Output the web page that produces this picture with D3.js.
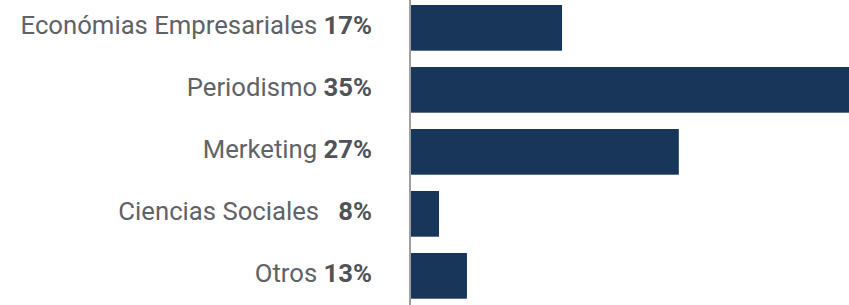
<!DOCTYPE html>
<html>
  <head>
    <meta charset="utf-8">
    <title>Bar chart</title>
    <script src="https://d3js.org/d3.v7.min.js"></script>
    <style>
      body { margin: 0; background: #fff; }
      text { font-family: Roboto, "Noto Sans", sans-serif; }
    </style>
  </head>
  <body>
    <div id="chart"></div>
    <script>
    // data
    var categories = ["Económias Empresariales", "Periodismo", "Merketing", "Ciencias Sociales", "Otros"];
    var percentLabels = ["17%", "35%", "27%", "  8%", "13%"];
    // bar lengths as drawn (same scale, 35 = full width)
    var barLengths = [12.07, 35, 21.4, 2.24, 4.47];

    var width = 849, height = 305;
    var axisX = 410;

    var svg = d3.select("#chart")
      .append("svg")
        .attr("width", width)
        .attr("height", height);

    var x = d3.scaleLinear()
      .domain([0, 35])
      .range([axisX + 1, width]);

    var y = d3.scaleBand()
      .domain(categories)
      .range([5, 298.7])
      .paddingInner(0.263)
      .paddingOuter(0);

    // bars
    svg.selectAll("rect.bar")
      .data(categories)
      .enter().append("rect")
        .attr("class", "bar")
        .attr("x", x(0))
        .attr("y", function(d) { return y(d); })
        .attr("width", function(d, i) { return x(barLengths[i]) - x(0); })
        .attr("height", y.bandwidth())
        .attr("fill", "#18355a");

    // vertical axis line
    svg.append("line")
      .attr("x1", axisX).attr("x2", axisX)
      .attr("y1", 0).attr("y2", height)
      .attr("stroke", "#7f7f7f")
      .attr("stroke-width", 1.5);

    // labels
    var labels = svg.selectAll("text.label")
      .data(categories)
      .enter().append("text")
        .attr("class", "label")
        .attr("x", 372)
        .attr("y", function(d) { return y(d) + y.bandwidth() / 2 + 6; })
        .attr("text-anchor", "end")
        .style("font-size", "25.7px")
        .style("white-space", "pre")
        .attr("fill", "#5f6368");

    labels.append("tspan")
      .text(function(d) { return d + " "; });

    labels.append("tspan")
      .style("font-weight", "bold")
      .attr("fill", "#4f5358")
      .text(function(d, i) { return percentLabels[i]; });
    </script>
  </body>
</html>
